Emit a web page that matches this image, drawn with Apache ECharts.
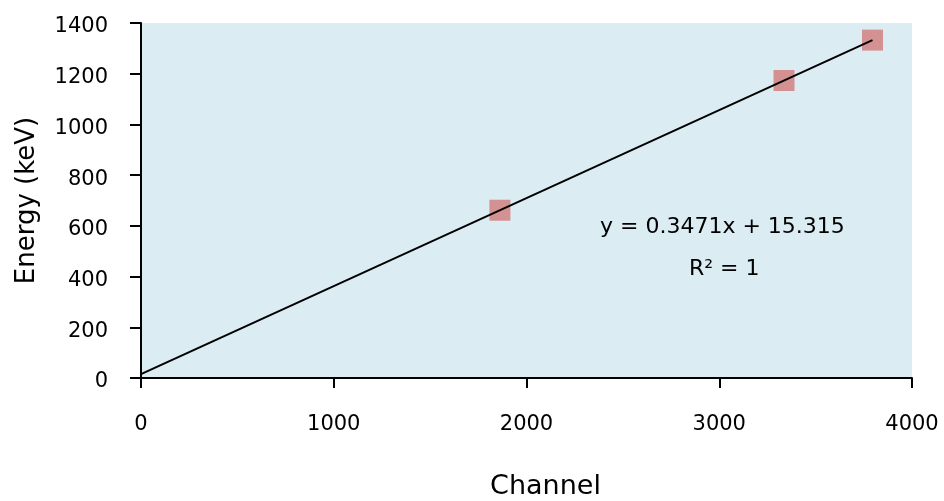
<!DOCTYPE html>
<html>
<head>
<meta charset="utf-8">
<script src="https://cdn.jsdelivr.net/npm/echarts@6/dist/echarts.min.js"></script>
<style>html,body{margin:0;padding:0;background:#fff}#c{width:944px;height:501px}</style>
</head>
<body>
<div id="c"></div>
<script>
const channels = [1862, 3336, 3795];
const energies = [661.7, 1173.2, 1332.5];
const fitSlope = 0.3471;
const fitIntercept = 15.315;
const fitRange = [0, 3795];
const xTicks = [0, 1000, 2000, 3000, 4000];
const yTicks = [0, 200, 400, 600, 800, 1000, 1200, 1400];

const FONT = '"DejaVu Sans", sans-serif';
const chart = echarts.init(document.getElementById('c'));
const points = channels.map((c, i) => [c, energies[i]]);
const fitLine = fitRange.map(x => [x, fitSlope * x + fitIntercept]);

chart.setOption({
  animation: false,
  backgroundColor: '#ffffff',
  grid: { left: 141, right: 32, top: 23, bottom: 123, backgroundColor: '#dbedf3', show: true, borderWidth: 0, outerBoundsMode: 'none', containLabel: false },
  xAxis: {
    type: 'value', min: 0, max: 4000, interval: 1000,
    name: 'Channel', nameLocation: 'middle', nameGap: 95,
    nameTextStyle: { fontFamily: FONT, fontSize: 27, color: '#000', padding: [0, 0, 0, 38] },
    axisLine: { show: true, lineStyle: { color: '#000', width: 2 } },
    axisTick: { show: true, length: 10, lineStyle: { color: '#000', width: 2 } },
    axisLabel: { margin: 36, fontFamily: FONT, fontSize: 21, color: '#000', formatter: v => String(v) },
    splitLine: { show: false }
  },
  yAxis: {
    type: 'value', min: 0, max: 1400, interval: 200,
    name: 'Energy (keV)', nameLocation: 'middle', nameGap: 101,
    nameTextStyle: { fontFamily: FONT, fontSize: 26, color: '#000' },
    axisLine: { show: true, lineStyle: { color: '#000', width: 2 } },
    axisTick: { show: true, length: 11, lineStyle: { color: '#000', width: 2 } },
    axisLabel: {
      margin: 33, color: '#000',
      formatter: v => '{t|' + v + '}',
      rich: { t: { fontFamily: FONT, fontSize: 21, color: '#000', padding: [8, 0, 0, 0] } }
    },
    splitLine: { show: false }
  },
  series: [
    {
      type: 'scatter', data: points, symbol: 'rect', symbolSize: 21,
      itemStyle: { color: '#d38c8c', opacity: 0.95 }, z: 2
    },
    {
      type: 'line', data: fitLine, symbol: 'none',
      lineStyle: { color: '#000', width: 2 }, z: 3
    }
  ],
  graphic: [
    { type: 'text', left: 600, top: 216, style: { text: 'y = 0.3471x + 15.315', font: '22px ' + FONT, fill: '#000' } },
    { type: 'text', left: 689, top: 258, style: { text: 'R² = 1', font: '22px ' + FONT, fill: '#000' } }
  ]
});
</script>
</body>
</html>
